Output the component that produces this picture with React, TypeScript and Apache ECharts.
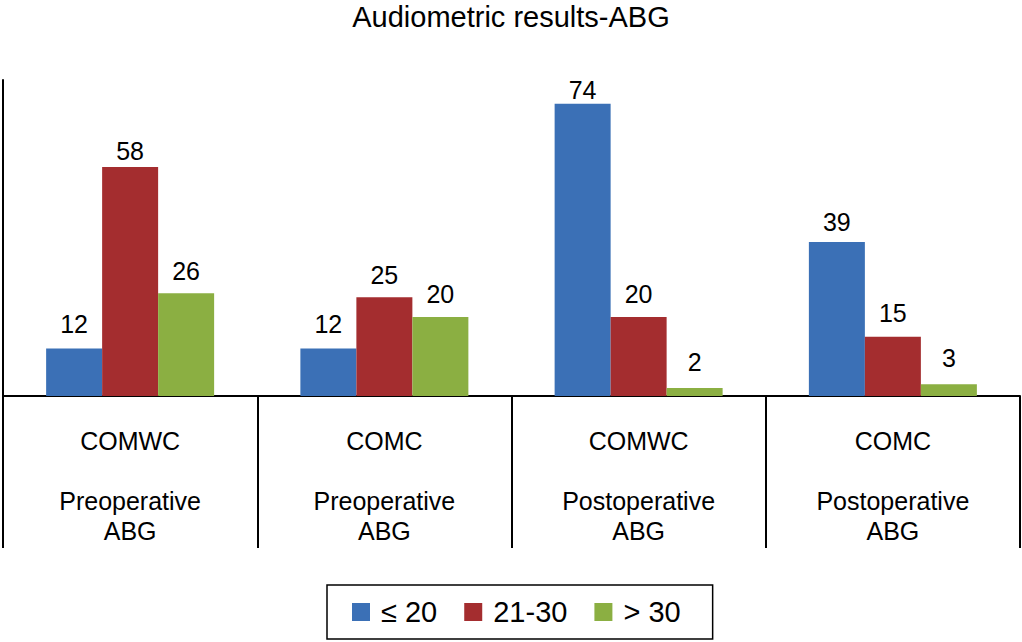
import React, { useEffect, useRef } from "react";
import * as echarts from "echarts";

const categories = [
  "COMWC\n\nPreoperative\nABG",
  "COMC\n\nPreoperative\nABG",
  "COMWC\n\nPostoperative\nABG",
  "COMC\n\nPostoperative\nABG",
];
const seriesNames = ["≤ 20", "21-30", "> 30"];
const lowValues = [12, 12, 74, 39];
const midValues = [58, 25, 20, 15];
const highValues = [26, 20, 2, 3];
const colors = ["#3B70B6", "#A42D2F", "#8BAF42"];

const FONT = "'Liberation Sans', Arial, Helvetica, sans-serif";

export default function App() {
  const ref = useRef<HTMLDivElement>(null);
  useEffect(() => {
    document.body.style.margin = "0";
    const chart = echarts.init(ref.current!, null, { renderer: "svg" });
    const data = [lowValues, midValues, highValues];
    chart.setOption({
      animation: false,
      backgroundColor: "#ffffff",
      textStyle: { fontFamily: FONT },
      title: {
        text: "Audiometric results-ABG",
        left: "center",
        top: -3,
        textStyle: { fontFamily: FONT, fontSize: 29, fontWeight: "normal", color: "#000" },
      },
      legend: {
        data: seriesNames,
        left: 327,
        top: 585,
        itemWidth: 18,
        itemHeight: 18,
        itemGap: 27,
        icon: "rect",
        borderColor: "#000",
        borderWidth: 1.5,
        borderRadius: 0,
        padding: [10, 32, 10, 25],
        textStyle: {
          fontFamily: FONT,
          fontSize: 29,
          lineHeight: 34,
          color: "#000",
          padding: [0, 0, 0, 6],
        },
      },
      grid: { left: 3, right: 2, top: 80, bottom: 246, containLabel: false },
      xAxis: {
        type: "category",
        data: categories,
        axisLine: { show: true, lineStyle: { color: "#000", width: 2 } },
        axisTick: { show: true, interval: 0, length: 152, lineStyle: { color: "#000", width: 2 } },
        axisLabel: {
          interval: 0,
          margin: 30,
          fontFamily: FONT,
          fontSize: 25,
          lineHeight: 30,
          color: "#000",
          align: "center",
        },
      },
      yAxis: {
        type: "value",
        min: 0,
        max: 80,
        axisLine: { show: true, lineStyle: { color: "#000", width: 2 } },
        axisTick: { show: false },
        axisLabel: { show: false },
        splitLine: { show: false },
      },
      series: seriesNames.map((name, i) => ({
        name,
        type: "bar",
        barWidth: 56,
        barGap: "0%",
        itemStyle: { color: colors[i] },
        label: {
          show: true,
          position: "top",
          fontFamily: FONT,
          fontSize: 25,
          color: "#000",
        },
        data: data[i].map((v) => ({
          value: v,
          label: { distance: Math.max(1, 14 - 0.18 * v) },
        })),
      })),
    });
    return () => chart.dispose();
  }, []);
  return (
    <div
      ref={ref}
      style={{ position: "fixed", left: 0, top: 0, width: 1022, height: 642 }}
    />
  );
}
